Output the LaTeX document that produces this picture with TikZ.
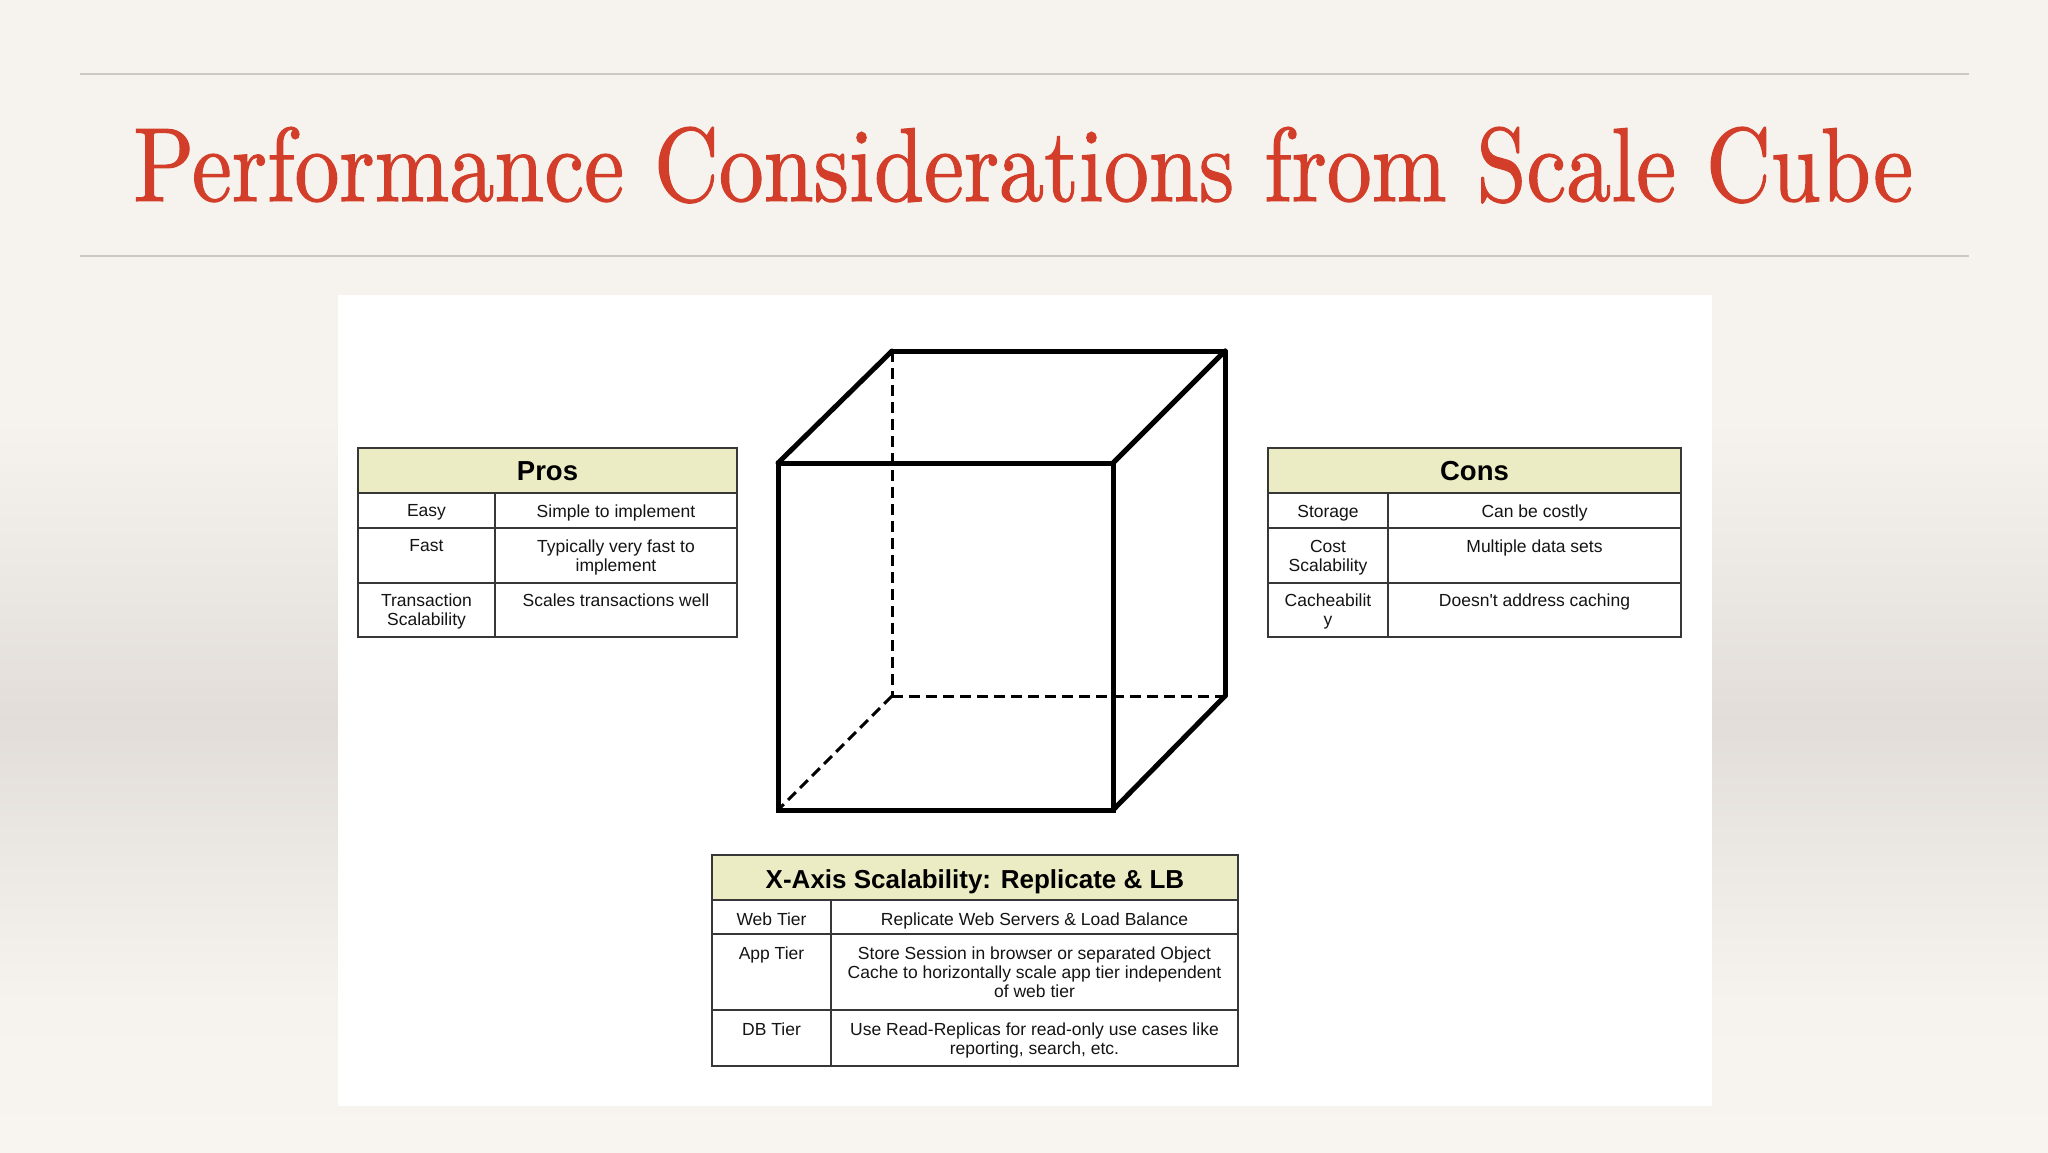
\documentclass[tikz,border=0pt]{standalone}
\usepackage{fontspec}
\usepackage{graphicx}
\newfontfamily\arial{Liberation Sans}
\newfontfamily\titlefont{lmroman10-regular.otf}[FakeBold=1.1]
\definecolor{bglight}{RGB}{246,243,238}
\definecolor{bgend}{RGB}{248,244,239}
\definecolor{bggray}{RGB}{226,221,216}
\definecolor{rulegray}{RGB}{205,200,195}
\definecolor{titlered}{RGB}{210,62,42}
\definecolor{hdrfill}{RGB}{236,236,196}
\definecolor{tblline}{RGB}{55,55,55}
\definecolor{txt}{RGB}{20,20,20}
\tikzset{
  tbl/.style={draw=tblline, line width=2pt},
  hdr/.style={fill=hdrfill},
  cell/.style={anchor=north, inner sep=0pt, align=center, text=txt,
    font=\arial\fontsize{17.5pt}{19pt}\selectfont},
  head/.style={anchor=base, inner sep=0pt, text=black,
    font=\arial\bfseries\fontsize{27.5pt}{30pt}\selectfont},
  xhead/.style={head, font=\arial\bfseries\fontsize{26pt}{28pt}\selectfont},
  solidedge/.style={draw=black, line width=5pt, line cap=round},
  hiddenedge/.style={draw=black, line width=3pt, dash pattern=on 11pt off 6pt}
}
\begin{document}
\begin{tikzpicture}[x=1pt,y=-1pt]
\useasboundingbox (0,0) rectangle (2048,1152);
% background
\fill[bglight] (0,0) rectangle (2048,420);
\shade[top color=bglight, bottom color=bggray] (0,419) rectangle (2048,721);
\shade[top color=bggray, bottom color=bglight] (0,720) rectangle (2048,1001);
\shade[top color=bglight, bottom color=bgend] (0,1000) rectangle (2048,1152);
% title rules
\draw[rulegray, line width=2pt] (80,74) -- (1969,74);
\draw[rulegray, line width=2pt] (80,256) -- (1969,256);
% title
\node[anchor=base west, inner sep=0pt, text=titlered] (title) at (133,201)
  {\resizebox{1780pt}{74pt}{\titlefont\fontsize{100pt}{100pt}\selectfont Performance Considerations from Scale Cube}};
% white panel
\fill[white] (338,295) rectangle (1712,1106);

% ---------------- Pros table
\fill[hdr] (358,448) rectangle (737,493);
\draw[tbl] (358,448) rectangle (737,637);
\draw[tbl] (358,493) -- (737,493) (358,528) -- (737,528) (358,583) -- (737,583)
  (495,493) -- (495,637);
\node[head] (prosH) at (547.5,480) {Pros};
\node[cell] (prosA1) at (426.5,504.6) {Easy};
\node[cell] (prosA2) at (616,504.6) {Simple to implement};
\node[cell] (prosB1) at (426.5,539.6) {Fast};
\node[cell] (prosB2) at (616,539.6) {Typically very fast to\\implement};
\node[cell] (prosC1) at (426.5,593.6) {Transaction\\Scalability};
\node[cell] (prosC2) at (616,593.6) {Scales transactions well};

% ---------------- Cons table
\fill[hdr] (1268,448) rectangle (1681,493);
\draw[tbl] (1268,448) rectangle (1681,637);
\draw[tbl] (1268,493) -- (1681,493) (1268,528) -- (1681,528) (1268,583) -- (1681,583)
  (1388,493) -- (1388,637);
\node[head] (consH) at (1474.5,480) {Cons};
\node[cell] (consA1) at (1328,504.6) {Storage};
\node[cell] (consA2) at (1534.5,504.6) {Can be costly};
\node[cell] (consB1) at (1328,539.6) {Cost\\Scalability};
\node[cell] (consB2) at (1534.5,539.6) {Multiple data sets};
\node[cell] (consC1) at (1328,593.6) {Cacheabilit\\y};
\node[cell] (consC2) at (1534.5,593.6) {Doesn't address caching};

% ---------------- X-axis table
\fill[hdr] (712,855) rectangle (1238,900);
\draw[tbl] (712,855) rectangle (1238,1066);
\draw[tbl] (712,900) -- (1238,900) (712,934) -- (1238,934) (712,1010) -- (1238,1010)
  (831,900) -- (831,1066);
\node[xhead] (xH) at (975,888) {X-Axis Scalability: Replicate \& LB};
\node[cell] (xA1) at (771.5,912.6) {Web Tier};
\node[cell] (xA2) at (1034.5,912.6) {Replicate Web Servers \& Load Balance};
\node[cell] (xB1) at (771.5,946.6) {App Tier};
\node[cell] (xB2) at (1034.5,946.6) {Store Session in browser or separated Object\\Cache to horizontally scale app tier independent\\of web tier};
\node[cell] (xC1) at (771.5,1022.6) {DB Tier};
\node[cell] (xC2) at (1034.5,1022.6) {Use Read-Replicas for read-only use cases like\\reporting, search, etc.};

% ---------------- Cube
\coordinate (ftl) at (778,463);
\coordinate (ftr) at (1113,463);
\coordinate (fbl) at (778,810);
\coordinate (fbr) at (1113,810);
\coordinate (btl) at (892,351);
\coordinate (btr) at (1225,351);
\coordinate (bbl) at (892,696);
\coordinate (bbr) at (1225,696);
\draw[hiddenedge] (btl) -- (bbl);
\draw[hiddenedge] (bbl) -- (bbr);
\draw[hiddenedge] (bbl) -- (fbl);
\draw[draw=black, line width=5pt, line join=miter] (ftl) -- (ftr) -- (fbr) -- (fbl) -- cycle;
\draw[solidedge] (ftl) -- (btl);
\draw[solidedge] (btl) -- (btr);
\draw[solidedge] (ftr) -- (btr);
\draw[solidedge] (btr) -- (bbr);
\draw[solidedge] (bbr) -- (fbr);
\end{tikzpicture}
\end{document}
